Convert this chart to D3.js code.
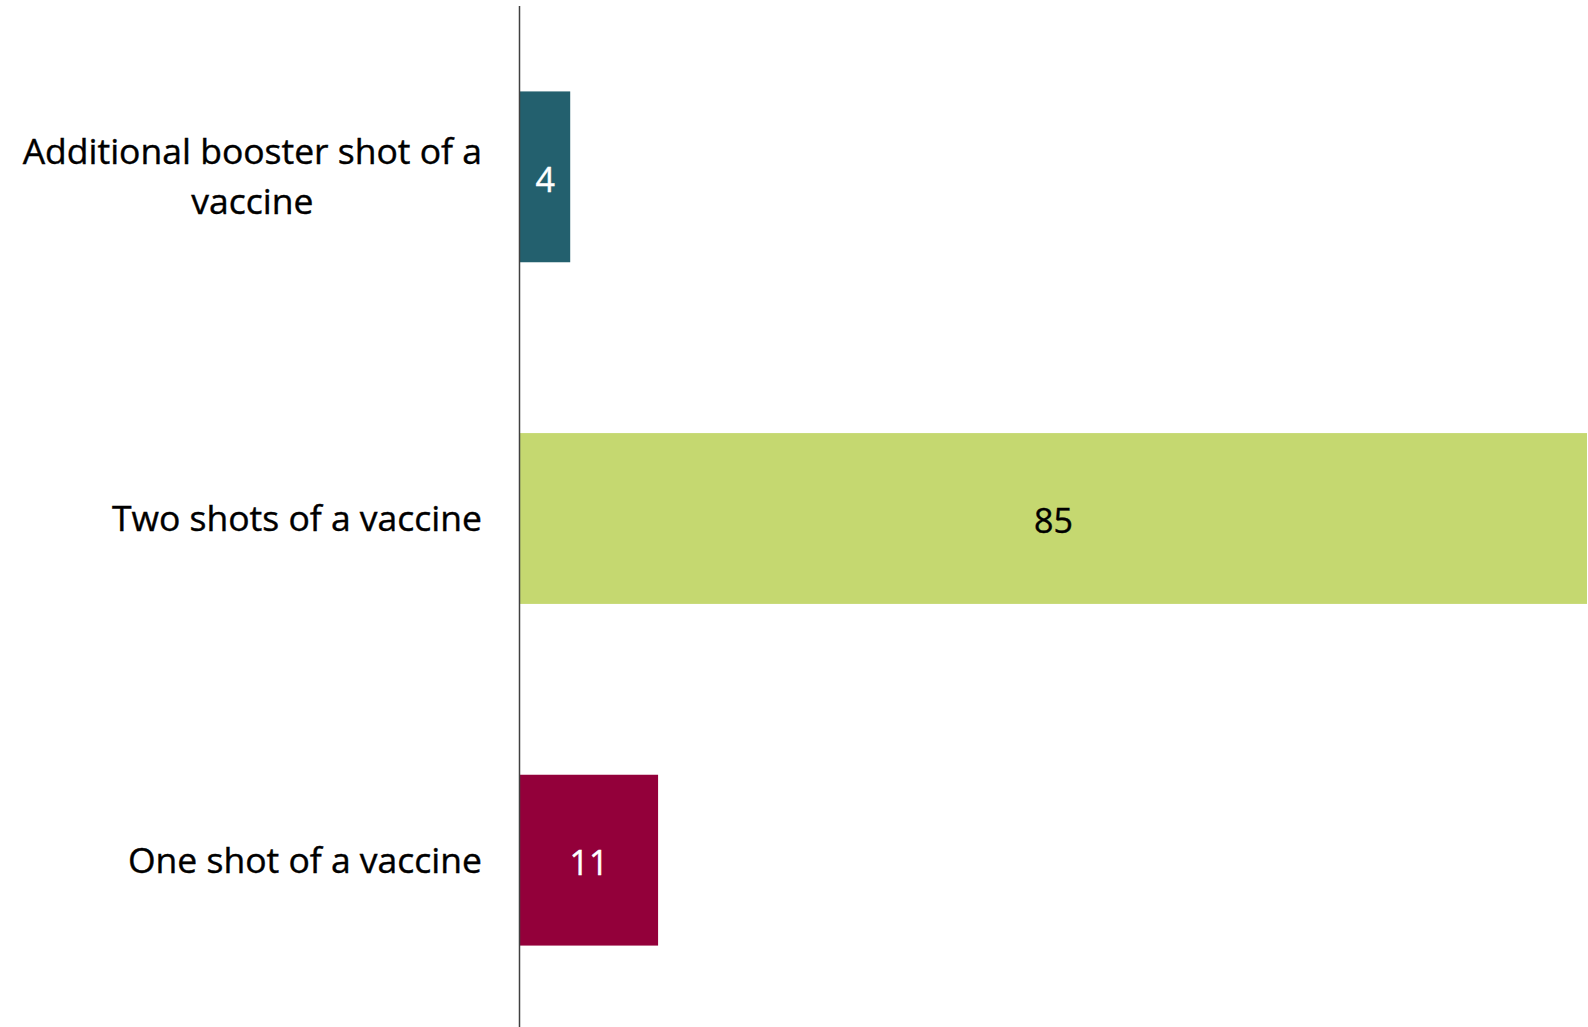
<!DOCTYPE html>
<html><head><meta charset="utf-8">
<script src="https://cdn.jsdelivr.net/npm/d3@7"></script>
<style>html,body{margin:0;padding:0;background:#fff;}svg{display:block;}</style>
</head><body>
<svg id="chart" width="1588" height="1027"></svg>
<script>
const categories = ["Additional booster shot of a vaccine", "Two shots of a vaccine", "One shot of a vaccine"];
const labelLines = [["Additional booster shot of a", "vaccine"], ["Two shots of a vaccine"], ["One shot of a vaccine"]];
const values = [4, 85, 11];
const colors = ["#23606E", "#C5D870", "#93003A"];
const labelColors = ["#ffffff", "#000000", "#ffffff"];

const svg = d3.select("#chart");
const font = "'Open Sans', 'Noto Sans', sans-serif";
const x0 = 520, xEnd = 1587;
const x = d3.scaleLinear().domain([0, 85]).range([x0, xEnd]);
const y = d3.scaleBand().domain(categories).range([6, 1031]).paddingInner(0.5).paddingOuter(0.25);

svg.selectAll("rect.bar").data(values).join("rect")
  .attr("class", "bar")
  .attr("x", x(0))
  .attr("y", (d, i) => y(categories[i]))
  .attr("width", d => x(d) - x(0))
  .attr("height", y.bandwidth())
  .attr("fill", (d, i) => colors[i]);

svg.selectAll("text.val").data(values).join("text")
  .attr("class", "val")
  .attr("x", d => (x(0) + x(d)) / 2)
  .attr("y", (d, i) => y(categories[i]) + y.bandwidth() / 2 + 3)
  .attr("dy", "0.35em")
  .attr("text-anchor", "middle")
  .attr("font-family", font)
  .attr("font-size", 34)
  .attr("fill", (d, i) => labelColors[i])
  .attr("stroke", (d, i) => labelColors[i]).attr("stroke-width", 0.4)
  .text(d => d);

// axis line
svg.append("line").attr("x1", x0 - 0.5).attr("x2", x0 - 0.5).attr("y1", 6).attr("y2", 1027)
  .attr("stroke", "#404040").attr("stroke-width", 1.5);

// category labels
const rightEdge = 482, lineH = 50;
labelLines.forEach((lines, i) => {
  const cy = y(categories[i]) + y.bandwidth() / 2;
  const g = svg.append("g");
  const texts = lines.map((ln, j) => g.append("text")
    .attr("font-family", font).attr("font-size", 35.5).attr("fill", "#000")
    .attr("stroke", "#000").attr("stroke-width", 0.4)
    .attr("y", cy + (j - (lines.length - 1) / 2) * lineH)
    .attr("dy", "0.35em")
    .text(ln));
  const widths = texts.map(t => t.node().getComputedTextLength());
  const maxW = d3.max(widths);
  texts.forEach((t, j) => t.attr("x", rightEdge - maxW / 2).attr("text-anchor", "middle"));
});
</script>
</body></html>
